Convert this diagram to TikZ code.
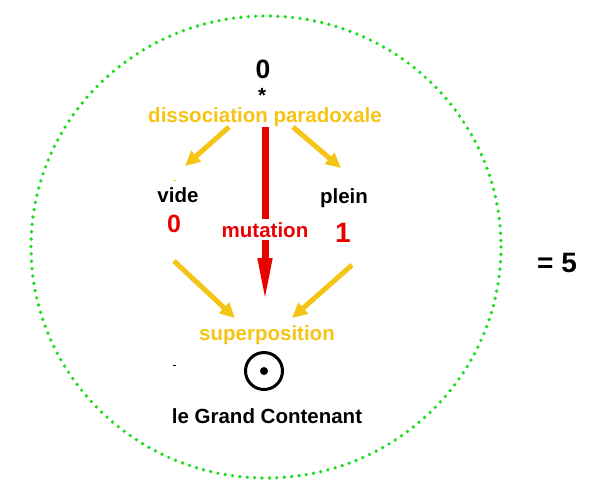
\documentclass[tikz,border=0pt]{standalone}
\usepackage{fontspec}
\setmainfont{Liberation Sans}
\usetikzlibrary{arrows.meta}
\definecolor{gold}{RGB}{245,196,20}
\definecolor{rouge}{RGB}{235,0,0}
\definecolor{vert}{RGB}{30,220,30}
\begin{document}
\begin{tikzpicture}[x=1pt,y=-1pt,
  txt/.style={anchor=base, inner sep=0pt, font=\fontsize{20.5}{24}\selectfont\bfseries},
  digit/.style={anchor=center, inner sep=0pt, font=\fontsize{#1}{#1}\selectfont\bfseries},
  yarrow/.style={draw=gold, line width=5pt, -{Triangle[length=15pt,width=14pt]}},
  rarrow/.style={draw=rouge, line width=7pt, -{Triangle[length=46pt,width=13pt]}}
]
\useasboundingbox (0,0) rectangle (594,485);
\fill[white] (0,0) rectangle (594,485);

% dotted enclosing circle
\draw[vert, line width=3.7pt, line cap=round, dash pattern=on 0pt off 7.4pt]
  (266,247) ellipse [x radius=235, y radius=231];

% texts
\node[digit=26.5] (zero) at (263,69) {0};
\node[txt] (star) at (262,102.5) {*};
\node[txt, text=gold] (diss) at (265,122.5) {dissociation paradoxale};
\node[txt] (vide) at (178,202) {vide};
\node[digit=25, text=rouge] (vzero) at (174,224) {0};
\node[txt] (plein) at (344,203) {plein};
\node[digit=28, text=rouge] (pun) at (343,233) {1};
\node[txt, text=gold] (sup) at (267,340) {superposition};
\node[txt] (gc) at (267,423) {le Grand Contenant};
\node[digit=28] (eq) at (557,263) {= 5};

% arrow end points
\coordinate (dl) at (229,127);
\coordinate (vl) at (185,166);
\coordinate (dr) at (293,127);
\coordinate (pr) at (341,168);
\coordinate (vb) at (174,261);
\coordinate (sl) at (235,318);
\coordinate (pb) at (352,265);
\coordinate (sr) at (292,318);
\coordinate (mt) at (265,127);
\coordinate (mb) at (265,304);

\draw[yarrow] (dl) -- (vl);
\draw[yarrow] (dr) -- (pr);
\draw[yarrow] (vb) -- (sl);
\draw[yarrow] (pb) -- (sr);
\draw[rarrow] (mt) -- (mb);

\node[txt, text=rouge, fill=white, inner ysep=3pt, inner xsep=1pt] (mut) at (265,237) {mutation};

% symbol of the Grand Contenant
\node[draw, circle, line width=3pt, minimum size=37pt, inner sep=0pt] (cont) at (264,371) {};
\fill (cont.center) circle (4pt);

% small marks
\fill (173,364.5) rectangle (176,366);
\fill[gold] (173.5,179.5) rectangle (176,181);
\end{tikzpicture}
\end{document}
